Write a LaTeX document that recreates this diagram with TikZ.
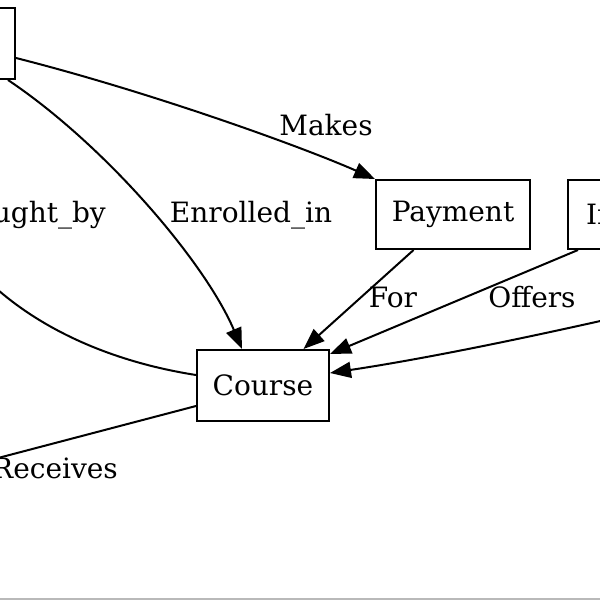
\documentclass[tikz,border=0pt]{standalone}
\usepackage{fontspec}
\setmainfont{DejaVu Serif}
\usetikzlibrary{arrows.meta}
\begin{document}
\begin{tikzpicture}[x=1pt,y=-1pt,
  box/.style={draw,line width=2pt,rectangle,inner sep=0pt,font=\fontsize{28}{33}\selectfont},
  edge/.style={line width=2pt},
  arr/.style={edge,-{Triangle[length=21pt,width=16pt]}},
  lbl/.style={font=\fontsize{28}{33}\selectfont,inner sep=0pt,anchor=base}]
\useasboundingbox (0,0) rectangle (600,600);
\clip (0,0) rectangle (600,600);
\node[box,minimum width=110pt,minimum height=71pt] (tl) at (-40,43.5) {};
\node[box,minimum width=154pt,minimum height=69pt] (pay) at (453,214.5) {Payment};
\node[box,minimum height=69pt,inner xsep=18pt,anchor=west] (inst) at (567,214.5) {Institution};
\node[box,minimum width=132pt,minimum height=71pt] (course) at (263,385.5) {Course};
\coordinate (tbEnd) at (-30,262);
\coordinate (rEnd) at (640,312);
\coordinate (rcEnd) at (-40,468);
% edges
\draw[arr] ([yshift=-14.5pt]tl.east) .. controls (150,92) and (300,146) .. (pay.north west);
\draw[arr] ([xshift=-8pt]tl.south east) .. controls (105,145) and (205,262) .. ([xshift=-21pt]course.north);
\draw[edge] ([yshift=10.5pt]course.west) .. controls (100,360) and (20,320) .. (tbEnd);
\draw[arr] (pay) -- (course);
\draw[arr] ([xshift=11pt]inst.south west) -- ([yshift=31.5pt]course.east);
\draw[arr] (rEnd) .. controls (540,335) and (430,358) .. ([yshift=12.5pt]course.east);
\draw[edge] ([yshift=-20.5pt]course.west) -- (rcEnd);
% labels
\node[lbl] (lmakes) at (326,135) {Makes};
\node[lbl] (lenr) at (251,222) {Enrolled\_in};
\node[lbl,anchor=base east] (ltaught) at (106,222) {Taught\_by};
\node[lbl] (lfor) at (393,307) {For};
\node[lbl] (loffers) at (532,307) {Offers};
\node[lbl,anchor=base east] (lrec) at (118,478) {Receives};
\draw[gray!55,line width=1.5pt] (0,599) -- (600,599);
\end{tikzpicture}
\end{document}
